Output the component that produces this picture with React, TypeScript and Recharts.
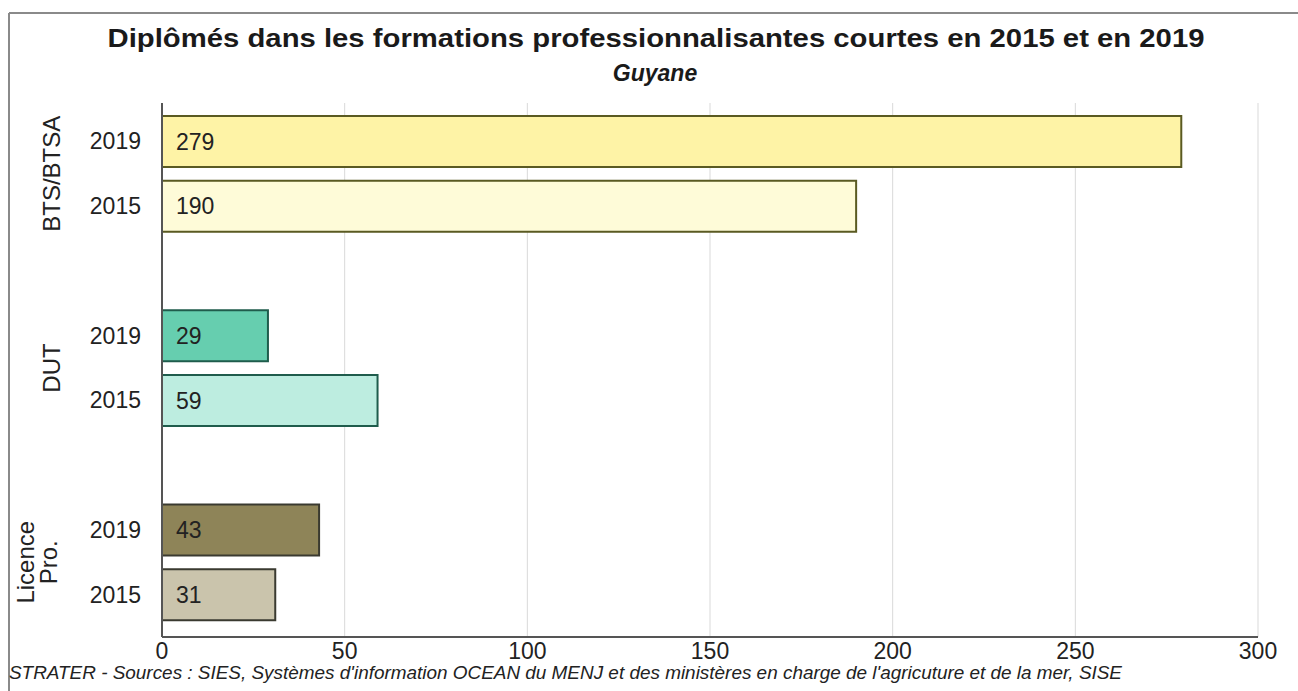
import React from 'react';
import { BarChart, Bar, XAxis, YAxis, CartesianGrid, Cell, LabelList } from 'recharts';

const groups = ['BTS/BTSA', 'DUT', 'Licence Pro.'];
const years = ['2019', '2015'];
const values2019 = [279, 29, 43];
const values2015 = [190, 59, 31];
const fills2019 = ['#FEF3A6', '#66CEAF', '#8E8458'];
const fills2015 = ['#FEFBD8', '#BDEDE0', '#CAC4AC'];
const strokes = ['#5A5A22', '#1F5C4C', '#3A3A30'];
const xTicks = [0, 50, 100, 150, 200, 250, 300];

const title = 'Diplômés dans les formations professionnalisantes courtes en 2015 et en 2019';
const subtitle = 'Guyane';
const footnote =
  "STRATER - Sources : SIES, Systèmes d'information OCEAN du MENJ et des ministères en charge de l'agricuture et de la mer, SISE";

type Row = { key: string; group: string; year: string; value: number | null; fill: string; stroke: string; gi: number };

const rows: Row[] = [];
groups.forEach((g, gi) => {
  rows.push({ key: `${g}-${years[0]}`, group: g, year: years[0], value: values2019[gi], fill: fills2019[gi], stroke: strokes[gi], gi });
  rows.push({ key: `${g}-${years[1]}`, group: g, year: years[1], value: values2015[gi], fill: fills2015[gi], stroke: strokes[gi], gi });
  if (gi < groups.length - 1) {
    rows.push({ key: `gap-${gi}`, group: '', year: '', value: null, fill: 'none', stroke: 'none', gi });
  }
});
const rowByKey: Record<string, Row> = {};
rows.forEach((r) => (rowByKey[r.key] = r));

const FONT = '"Liberation Sans", Arial, sans-serif';

const CategoryTick = (props: any) => {
  const { x, y, payload } = props;
  const row = rowByKey[payload.value];
  if (!row || !row.year) return null;
  const half = payload && typeof payload.offset === 'number' && payload.offset > 0 ? payload.offset : 32;
  const out: React.ReactNode[] = [
    <text key="yr" x={x - 13} y={y} dy="0.35em" textAnchor="end" fontSize={23} fill="#222" fontFamily={FONT}>
      {row.year}
    </text>,
  ];
  if (row.year === years[1]) {
    const cy = y - half;
    const lines = row.group.split(' ');
    const xs = lines.length === 1 ? [52] : [26, 49];
    lines.forEach((ln, i) => {
      out.push(
        <text
          key={'g' + i}
          x={xs[i]}
          y={cy}
          dy="0.35em"
          textAnchor="middle"
          fontSize={24}
          fill="#222"
          fontFamily={FONT}
          transform={`rotate(-90 ${xs[i]} ${cy})`}
        >
          {ln}
        </text>
      );
    });
  }
  return <g>{out}</g>;
};

const ValueLabel = (props: any) => {
  const { x, y, height, value } = props;
  if (value === null || value === undefined) return null;
  return (
    <text x={x + 14} y={y + height / 2} dy="0.35em" textAnchor="start" fontSize={23} fill="#222" fontFamily={FONT}>
      {value}
    </text>
  );
};

export default function App() {
  return (
    <div style={{ position: 'absolute', left: 0, top: 0, width: 1298, height: 691, overflow: 'hidden', background: '#fff' }}>
      <BarChart
        width={1298}
        height={691}
        data={rows}
        layout="vertical"
        margin={{ top: 103, right: 40, bottom: 24, left: 0 }}
        barSize={51}
      >
        <CartesianGrid vertical horizontal={false} stroke="#D9D9D9" strokeWidth={1} />
        <XAxis
          type="number"
          domain={[0, 300]}
          ticks={xTicks}
          tickLine={false}
          tickSize={4}
          axisLine={{ stroke: '#555', strokeWidth: 2 }}
          tick={{ fontSize: 23, fill: '#222', fontFamily: FONT }}
          height={30}
          interval={0}
        />
        <XAxis
          xAxisId="top"
          orientation="top"
          type="number"
          domain={[0, 300]}
          tick={false}
          tickLine={false}
          axisLine={{ stroke: '#555', strokeWidth: 2 }}
          height={0}
        />
        <YAxis
          type="category"
          dataKey="key"
          width={162}
          tickLine={false}
          axisLine={{ stroke: '#555', strokeWidth: 2 }}
          tick={<CategoryTick />}
          interval={0}
          padding={{ top: 6, bottom: 10 }}
        />
        <YAxis
          yAxisId="right"
          orientation="right"
          type="category"
          dataKey="key"
          width={0}
          tick={false}
          tickLine={false}
          axisLine={{ stroke: '#555', strokeWidth: 2 }}
          padding={{ top: 6, bottom: 10 }}
        />
        <Bar dataKey="value" isAnimationActive={false} strokeWidth={2}>
          {rows.map((r) => (
            <Cell key={r.key} fill={r.fill} stroke={r.stroke} />
          ))}
          <LabelList dataKey="value" content={<ValueLabel />} />
        </Bar>
      </BarChart>
      <svg
        width={1298}
        height={691}
        style={{ position: 'absolute', left: 0, top: 0, pointerEvents: 'none' }}
      >
        <line x1={9} y1={13} x2={1298} y2={13} stroke="#8A8A8A" strokeWidth={2} />
        <line x1={9} y1={13} x2={9} y2={691} stroke="#8A8A8A" strokeWidth={2} />
        <text
          x={656}
          y={47}
          textAnchor="middle"
          fontSize={26}
          fontWeight="bold"
          fill="#1a1a1a"
          fontFamily={FONT}
          textLength={1097}
          lengthAdjust="spacingAndGlyphs"
        >
          {title}
        </text>
        <text
          x={655}
          y={81}
          textAnchor="middle"
          fontSize={23}
          fontStyle="italic"
          fontWeight="bold"
          fill="#1a1a1a"
          fontFamily={FONT}
        >
          {subtitle}
        </text>
        <text
          x={9}
          y={679}
          textAnchor="start"
          fontSize={19}
          fontStyle="italic"
          fill="#222"
          fontFamily={FONT}
          textLength={1113}
          lengthAdjust="spacingAndGlyphs"
        >
          {footnote}
        </text>
      </svg>
    </div>
  );
}
